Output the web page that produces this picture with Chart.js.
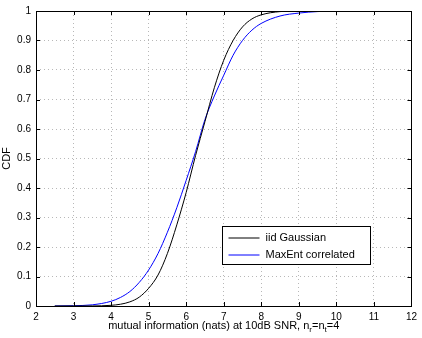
<!DOCTYPE html>
<html>
<head>
<meta charset="utf-8">
<script src="https://cdn.jsdelivr.net/npm/chart.js@4"></script>
<style>
  html, body { margin: 0; padding: 0; background: #fff; }
  #wrap { width: 422px; height: 338px; position: relative; }
</style>
</head>
<body>
<div id="wrap"><canvas id="cdf"></canvas></div>
<script>
// values
const xs = [2.5, 3, 3.5, 4, 4.25, 4.5, 4.75, 5, 5.25, 5.5, 5.75, 6, 6.25, 6.5, 6.75, 7, 7.25, 7.5, 7.75, 8, 8.5, 9, 9.5, 10, 11, 12];
const iidGaussian = [0, 0, 0.0002, 0.0023, 0.006, 0.014, 0.03, 0.06, 0.105, 0.178, 0.275, 0.385, 0.51, 0.625, 0.74, 0.833, 0.9, 0.946, 0.973, 0.987, 0.998, 1, 1, 1, 1, 1];
const maxEnt = [0.0001, 0.001, 0.004, 0.016, 0.029, 0.049, 0.08, 0.122, 0.178, 0.25, 0.333, 0.426, 0.523, 0.632, 0.712, 0.782, 0.85, 0.9, 0.935, 0.958, 0.983, 0.993, 0.998, 1, 1, 1];
const seriesNames = ["iid Gaussian", "MaxEnt correlated"];
const seriesColors = ["#000000", "#0000ff"];
const xTicks = [2, 3, 4, 5, 6, 7, 8, 9, 10, 11, 12];
const yTicks = [0, 0.1, 0.2, 0.3, 0.4, 0.5, 0.6, 0.7, 0.8, 0.9, 1];

const FONT = '"Liberation Sans", Arial, Helvetica, sans-serif';

// frame + inward ticks, like the matlab axes
const frame = {
    id: "frame",
    afterDraw(chart) {
        const ctx = chart.ctx;
        const a = chart.chartArea;
        const sx = chart.scales.x, sy = chart.scales.y;
        ctx.save();
        ctx.strokeStyle = "#000";
        ctx.lineWidth = 1;
        ctx.beginPath();
        xTicks.forEach(v => {
            const p = Math.round(sx.getPixelForValue(v)) + 0.5;
            ctx.moveTo(p, a.bottom); ctx.lineTo(p, a.bottom - 4);
            ctx.moveTo(p, a.top); ctx.lineTo(p, a.top + 4);
        });
        yTicks.forEach(v => {
            const p = Math.round(sy.getPixelForValue(v)) + 0.5;
            ctx.moveTo(a.left, p); ctx.lineTo(a.left + 4, p);
            ctx.moveTo(a.right, p); ctx.lineTo(a.right - 4, p);
        });
        ctx.stroke();
        ctx.strokeRect(Math.round(a.left) + 0.5, Math.round(a.top) + 0.5,
            Math.round(a.right - a.left), Math.round(a.bottom - a.top));
        ctx.restore();
    }
};

// legend box inside the plot
const boxLegend = {
    id: "boxLegend",
    afterDraw(chart) {
        const ctx = chart.ctx;
        const a = chart.chartArea;
        const x0 = a.left + 186.5, y0 = a.top + 215.5, w = 148, h = 38;
        ctx.save();
        ctx.fillStyle = "#fff";
        ctx.fillRect(x0, y0, w, h);
        ctx.strokeStyle = "#000";
        ctx.lineWidth = 1;
        ctx.strokeRect(x0, y0, w, h);
        ctx.font = "11px " + FONT;
        ctx.textBaseline = "middle";
        chart.data.datasets.forEach((ds, i) => {
            // unsnapped y so the sample line comes out soft, like the original
            const y = Math.round(y0 + 11 + i * 17);
            ctx.beginPath();
            ctx.strokeStyle = seriesColors[i];
            ctx.moveTo(x0 + 6, y);
            ctx.lineTo(x0 + 37, y);
            ctx.stroke();
            ctx.fillStyle = "#000";
            ctx.fillText(ds.label, x0 + 43, y);
        });
        ctx.restore();
    }
};

// x label with subscripts
const xLabel = {
    id: "xLabel",
    afterDraw(chart) {
        const ctx = chart.ctx;
        const a = chart.chartArea;
        const parts = [
            ["mutual information (nats) at 10dB SNR, n", 0],
            ["r", 1],
            ["=n", 0],
            ["t", 1],
            ["=4", 0]
        ];
        const big = "11px " + FONT, small = "8px " + FONT;
        ctx.save();
        let total = 0;
        parts.forEach(p => { ctx.font = p[1] ? small : big; total += ctx.measureText(p[0]).width; });
        let x = (a.left + a.right) / 2 - total / 2;
        const base = 329;
        ctx.fillStyle = "#000";
        ctx.textBaseline = "alphabetic";
        parts.forEach(p => {
            ctx.font = p[1] ? small : big;
            ctx.fillText(p[0], x, p[1] ? base + 3 : base);
            x += ctx.measureText(p[0]).width;
        });
        ctx.restore();
    }
};

const toPts = ys => xs.map((x, i) => ({ x: x, y: ys[i] }));

new Chart(document.getElementById("cdf"), {
    type: "line",
    data: {
        datasets: [
            { label: seriesNames[0], data: toPts(iidGaussian), borderColor: seriesColors[0], borderWidth: 1, pointRadius: 0, cubicInterpolationMode: "monotone", fill: false },
            { label: seriesNames[1], data: toPts(maxEnt), borderColor: seriesColors[1], borderWidth: 1, pointRadius: 0, cubicInterpolationMode: "monotone", fill: false }
        ]
    },
    options: {
        responsive: true,
        maintainAspectRatio: false,
        animation: false,
        layout: { padding: { top: 9, right: 10, left: 0, bottom: 0 } },
        plugins: {
            legend: { display: false },
            tooltip: { enabled: false }
        },
        scales: {
            x: {
                type: "linear",
                min: 2,
                max: 12,
                afterBuildTicks: s => { s.ticks = xTicks.map(v => ({ value: v })); },
                afterFit: s => { s.height = 32; },
                ticks: { color: "#000", font: { family: FONT, size: 10 }, padding: 5, maxRotation: 0 },
                grid: { color: "#b8b8b8", drawTicks: false, lineWidth: 1 },
                border: { display: false, dash: [1, 3] }
            },
            y: {
                min: 0,
                max: 1,
                afterBuildTicks: s => { s.ticks = yTicks.map(v => ({ value: v })); },
                afterFit: s => { s.width = 36; },
                ticks: { color: "#000", font: { family: FONT, size: 10 }, padding: 5, callback: v => String(Math.round(v * 10) / 10) },
                grid: { color: "#b8b8b8", drawTicks: false, lineWidth: 1 },
                border: { display: false, dash: [1, 3] },
                title: { display: true, text: "CDF", color: "#000", font: { family: FONT, size: 11 }, padding: { top: 0, bottom: 0 } }
            }
        }
    },
    plugins: [frame, boxLegend, xLabel]
});
</script>
</body>
</html>
